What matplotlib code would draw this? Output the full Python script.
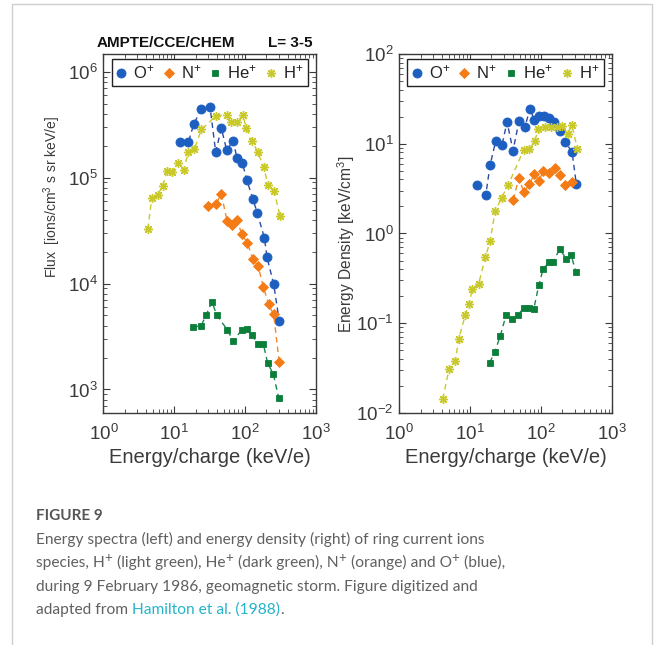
import matplotlib
matplotlib.use("Agg")
from matplotlib import pyplot as plt
import matplotlib.patches as patches
import matplotlib.ticker as ticker

plt.rcParams['font.family'] = ['Liberation Sans', 'DejaVu Sans']
plt.rcParams['mathtext.fontset'] = 'custom'
plt.rcParams['mathtext.rm'] = 'Liberation Sans'
plt.rcParams['mathtext.it'] = 'Liberation Sans:italic'
plt.rcParams['mathtext.bf'] = 'Liberation Sans:bold'

# ---- flux spectra (left panel) ----
flux_o_e = [12.1, 15.8, 18.8, 24.1, 32.0, 38.4, 46.2, 55.0, 67.4, 76.9, 91.4, 106, 129, 149, 187, 204, 253, 303]
flux_o = [2.15e5, 2.15e5, 3.2e5, 4.43e5, 4.6e5, 1.75e5, 2.92e5, 1.81e5, 2.24e5, 1.53e5, 1.38e5, 9.4e4, 6.27e4,
          4.59e4, 2.7e4, 1.77e4, 9.87e3, 4.45e3]
flux_n_e = [30.3, 38.9, 46.2, 55.6, 66.1, 77.6, 89.5, 107, 128, 152, 181, 215, 253, 303]
flux_n = [5.42e4, 5.66e4, 7.03e4, 3.88e4, 3.61e4, 3.97e4, 2.91e4, 2.44e4, 1.71e4, 1.48e4, 9.25e3, 6.35e3, 5.11e3, 1.8e3]
flux_he_e = [18.2, 23.9, 28.1, 34.1, 39.7, 56.1, 68.2, 89.5, 105, 124, 153, 181, 208, 250, 298]
flux_he = [3.88e3, 3.99e3, 5.03e3, 6.72e3, 5.03e3, 3.66e3, 2.86e3, 3.66e3, 3.73e3, 3.24e3, 2.7e3, 2.68e3, 1.77e3,
           1.4e3, 833]
flux_h_e = [4.23, 4.81, 5.85, 6.88, 7.84, 9.31, 11.2, 13.6, 15.7, 19.2, 24.1, 38.9, 55.6, 64.0, 76.9, 92.5, 104,
            126, 151, 183, 210, 256, 311]
flux_h = [3.27e4, 6.44e4, 6.93e4, 8.37e4, 1.15e5, 1.13e5, 1.38e5, 1.18e5, 1.73e5, 1.85e5, 2.85e5, 3.84e5, 3.92e5,
          3.34e5, 3.34e5, 3.92e5, 2.95e5, 2.2e5, 1.75e5, 1.25e5, 8.55e4, 7.5e4, 4.36e4]

# ---- energy density (right panel) ----
dens_o_e = [12.5, 16.6, 19.1, 23.0, 28.2, 33.2, 40.3, 49.1, 59.0, 70.2, 80.0, 94.0, 111, 131, 155, 188, 221, 275, 316]
dens_o = [3.47, 2.67, 5.75, 10.8, 9.69, 17.6, 8.37, 18.1, 15.2, 24.6, 18.4, 20.4, 20.4, 19.4, 17.5, 13.8, 10.5, 8.04,
          3.53]
dens_n_e = [40.7, 48.5, 57.7, 68.6, 80.7, 94.0, 108, 131, 160, 184, 221, 272]
dens_n = [2.38, 4.12, 2.88, 3.56, 4.57, 3.88, 4.97, 4.76, 5.41, 4.45, 3.47, 3.77]
dens_he_e = [18.9, 22.3, 26.7, 32.2, 39.5, 47.0, 57.1, 67.3, 79.1, 93.1, 107, 130, 148, 184, 229, 266, 313]
dens_he = [0.0364, 0.0479, 0.0727, 0.124, 0.112, 0.124, 0.147, 0.149, 0.144, 0.265, 0.399, 0.481, 0.481, 0.671,
           0.520, 0.575, 0.370]
dens_h_e = [4.10, 5.03, 6.18, 6.90, 8.55, 9.64, 10.7, 13.2, 16.4, 19.1, 22.5, 27.9, 34.3, 57.1, 68.6, 81.7, 91.0,
            113, 139, 169, 200, 239, 272, 327]
dens_h = [0.0143, 0.0307, 0.0383, 0.0668, 0.124, 0.163, 0.239, 0.276, 0.543, 0.819, 1.77, 2.51, 3.44, 8.59, 8.67,
          10.6, 14.5, 15.3, 15.3, 15.5, 15.8, 12.8, 16.2, 8.76]

species = ['O$^{+}$', 'N$^{+}$', 'He$^{+}$', 'H$^{+}$']

# marker colour, dashed line colour, marker style, marker size
styles = [('#1d5fc1', '#2d4aa0', 'o', 6.5),
          ('#f47b16', '#f08a2c', 'D', 5.0),
          ('#0b7f3a', '#18864a', 's', 5.0),
          ('#c9c92b', '#c9c92b', (8, 2, 0), 6.5)]

W, H = 657, 645
fig = plt.figure(figsize=(W / 100, H / 100), dpi=100)

ax1 = fig.add_axes([0.1575, 0.3597, 0.3234, 0.5566])
ax2 = fig.add_axes([0.6078, 0.3597, 0.3234, 0.5566])


def draw_panel(ax, series, ylim, yticks):
    for (x, y), label, (mc, lc, mk, ms) in zip(series, species, styles):
        ax.plot(x, y, ls=(0, (4, 3)), color=lc, lw=1.0)
        mew = 1.0 if mk == (8, 2, 0) else 0.6
        ax.plot(x, y, ls='none', marker=mk, ms=ms, mec=mc, mfc=mc, mew=mew, label=label)
    ax.set_xscale('log')
    ax.set_yscale('log')
    ax.set_xlim(1, 1000)
    ax.set_ylim(*ylim)
    ax.set_xticks([1, 10, 100, 1000])
    ax.set_yticks(yticks)
    ax.xaxis.set_minor_locator(ticker.LogLocator(base=10, subs=range(2, 10), numticks=20))
    ax.yaxis.set_minor_locator(ticker.LogLocator(base=10, subs=range(2, 10), numticks=20))
    ax.xaxis.set_minor_formatter(ticker.NullFormatter())
    ax.yaxis.set_minor_formatter(ticker.NullFormatter())
    ax.tick_params(which='both', direction='in', top=True, right=True, colors='#3a3a3a', labelsize=13.5)
    ax.tick_params(which='major', length=5, width=0.8)
    ax.tick_params(which='minor', length=2.8, width=0.6)
    ax.tick_params(axis='x', pad=8)
    ax.tick_params(axis='y', pad=4)
    for sp in ax.spines.values():
        sp.set_color('#3a3a3a')
        sp.set_linewidth(1.0)
    ax.set_xlabel('Energy/charge (keV/e)', fontsize=14.5, color='#3a3a3a', labelpad=3)
    leg = ax.legend(loc='upper center', ncol=4, fontsize=12, frameon=True, fancybox=False,
                    edgecolor='#222222', handlelength=0.6, handletextpad=0.42, columnspacing=0.54,
                    borderpad=0.28, borderaxespad=0.3, framealpha=1)
    leg.get_frame().set_linewidth(1.0)
    for t in leg.get_texts():
        t.set_color('#222222')


draw_panel(ax1, [(flux_o_e, flux_o), (flux_n_e, flux_n), (flux_he_e, flux_he), (flux_h_e, flux_h)],
           (600, 1.47e6), [1e3, 1e4, 1e5, 1e6])
draw_panel(ax2, [(dens_o_e, dens_o), (dens_n_e, dens_n), (dens_he_e, dens_he), (dens_h_e, dens_h)],
           (1e-2, 1e2), [1e-2, 1e-1, 1e0, 1e1, 1e2])

fig.text(52 / W, 1 - 197 / H, 'Flux  [ions/cm$^{3}$ s sr keV/e]', rotation=90, ha='center', va='center',
         fontsize=10, color='#3a3a3a')
fig.text(346 / W, 1 - 244 / H, 'Energy Density [keV/cm$^{3}$]', rotation=90, ha='center', va='center',
         fontsize=11.2, color='#3a3a3a')

fig.text(97 / W, 1 - 43 / H, 'AMPTE/CCE/CHEM', ha='left', va='center', fontsize=11, weight='bold',
         color='#111111')
fig.text(312 / W, 1 - 43 / H, 'L= 3-5', ha='right', va='center', fontsize=11, weight='bold',
         color='#111111')

# caption block: pieces are laid out left to right, (text, colour, superscript?)
cap_font = 'Lato'
cap_size = 11.2
cap_grey = '#606060'
link = '#25b4c9'
x0 = 36


def caption_line(y, pieces):
    x = x0
    for txt, col, sup in pieces:
        if sup:
            t = fig.text((x - 0.5) / W, 1 - (y - 4.5) / H, txt, family=cap_font, fontsize=cap_size * 0.85,
                         color=col, va='center')
        else:
            t = fig.text(x / W, 1 - y / H, txt, family=cap_font, fontsize=cap_size, color=col, va='center')
        fig.canvas.draw()
        x = t.get_window_extent().x1 + (1 if sup else 0)


fig.text(x0 / W, 1 - 515.5 / H, 'FIGURE 9', family=cap_font, weight='bold', fontsize=11,
         color='#555555', va='center')
caption_line(539, [('Energy spectra (left) and energy density (right) of ring current ions', cap_grey, False)])
caption_line(562.5, [('species, H', cap_grey, False), ('+', cap_grey, True),
                     (' (light green), He', cap_grey, False), ('+', cap_grey, True),
                     (' (dark green), N', cap_grey, False), ('+', cap_grey, True),
                     (' (orange) and O', cap_grey, False), ('+', cap_grey, True),
                     (' (blue),', cap_grey, False)])
caption_line(586.5, [('during 9 February 1986, geomagnetic storm. Figure digitized and', cap_grey, False)])
caption_line(610, [('adapted from ', cap_grey, False), ('Hamilton et al. (1988)', link, False),
                   ('.', cap_grey, False)])

# thin page frame
frame = patches.Rectangle((12 / W, -0.05), 640 / W, (H - 4) / H + 0.05, transform=fig.transFigure,
                          fill=False, edgecolor='#cfcfcf', lw=1.0)
fig.patches.append(frame)

fig.savefig('out.png', dpi=100)
